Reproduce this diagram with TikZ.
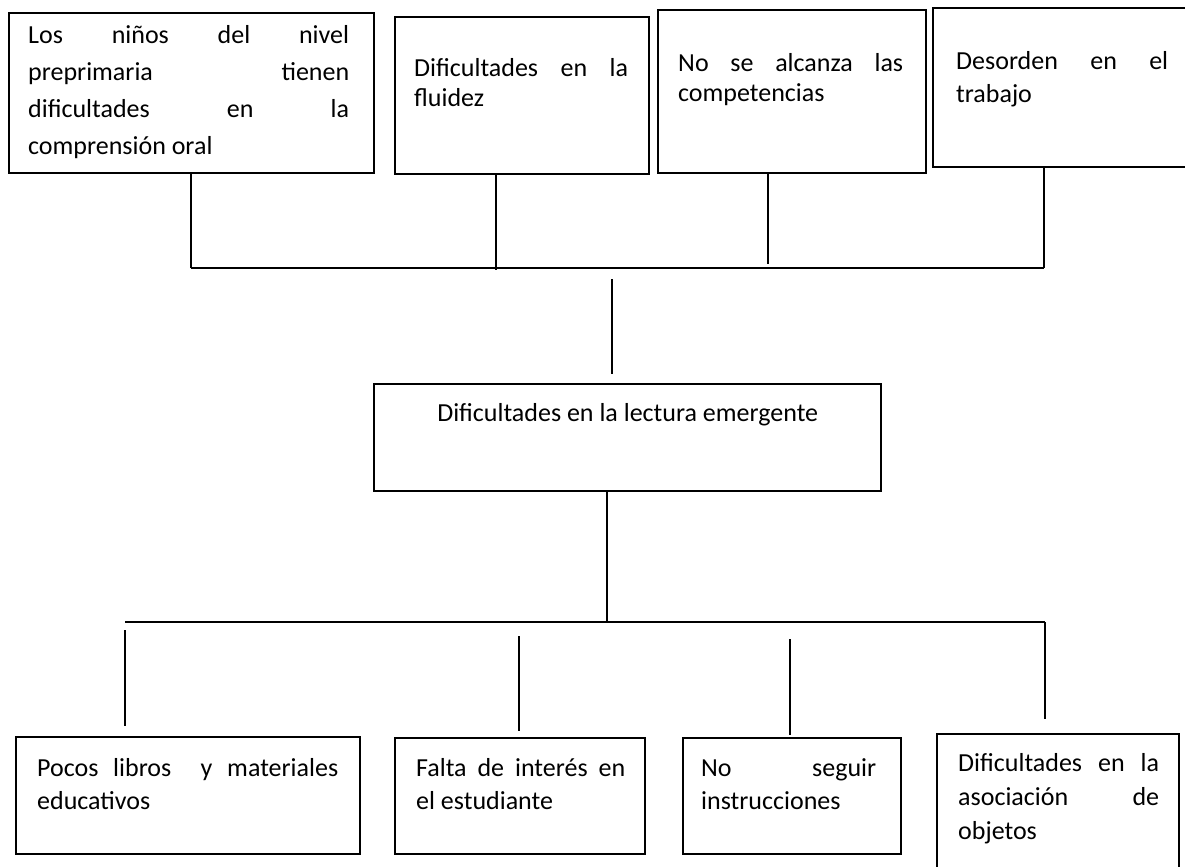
\documentclass[tikz,border=0pt]{standalone}
\usepackage{fontspec}
\setmainfont{Carlito}
\usetikzlibrary{calc}
% width, height, left pad, right pad, first baseline, text
\newcommand{\boxtext}[6]{\parbox[t][#2][t]{#1}{\hyphenpenalty=10000\relax\tolerance=10000\relax\leftskip=#3\relax\rightskip=#4\relax\rule{0pt}{#5}#6}}

\begin{document}
\begin{tikzpicture}[x=0.5pt, y=-0.5pt,
      treebox/.style={draw, line width=1.2pt, anchor=north west, inner sep=0pt, font=\fontsize{13}{16.5}\selectfont},
      link/.style={line width=0.6pt}
    ]
      \useasboundingbox (0,0) rectangle (1185,867);
      % efectos
      \node[treebox, font=\fontsize{13}{18.5}\selectfont] (efecto1) at (8,12) {\boxtext{182.5pt}{80pt}{9.5pt}{12.5pt}{15pt}{Los niños del nivel\linebreak preprimaria tienen\linebreak dificultades en la\linebreak comprensión oral}};
      \node[treebox, font=\fontsize{13}{15}\selectfont] (efecto2) at (394,16) {\boxtext{127pt}{78.5pt}{9.5pt}{10.5pt}{29.5pt}{Dificultades en la\linebreak fluidez}};
      \node[treebox, font=\fontsize{13}{15}\selectfont] (efecto3) at (657,9) {\boxtext{134pt}{81.5pt}{10pt}{11.5pt}{30.5pt}{No se alcanza las\linebreak competencias}};
      \node[treebox] (efecto4) at (932,7) {\boxtext{140pt}{79.5pt}{11.5pt}{22.5pt}{30.5pt}{Desorden en el\linebreak trabajo}};
      % problema central
      \node[treebox] (problema) at (373,383) {\parbox[t][53.5pt][t]{253.5pt}{\centering\rule{0pt}{18.5pt}Dificultades en la lectura emergente}};
      % causas
      \node[treebox] (causa1) at (15,736) {\boxtext{172pt}{58.5pt}{10.5pt}{11pt}{19.5pt}{Pocos libros\ \ y materiales\linebreak educativos}};
      \node[treebox] (causa2) at (394,737) {\boxtext{125pt}{58pt}{10.5pt}{10pt}{19pt}{Falta de interés en\linebreak el estudiante}};
      \node[treebox] (causa3) at (682,737) {\boxtext{109pt}{58pt}{9pt}{12.5pt}{19pt}{No seguir\linebreak instrucciones}};
      \node[treebox, font=\fontsize{13}{17}\selectfont] (causa4) at (936,733) {\boxtext{121pt}{70pt}{10.5pt}{10pt}{18.5pt}{Dificultades en la\linebreak asociación de\linebreak objetos}};
      % puntos de las barras
      \coordinate (e1) at (191,268);
      \coordinate (e2) at (496,270);
      \coordinate (e3) at (768,264);
      \coordinate (e4) at (1044,268);
      \coordinate (p1) at (612,279);
      \coordinate (p2) at (607,622);
      \coordinate (c0) at (125,622);
      \coordinate (c1) at (125,630);
      \coordinate (c2) at (519,636);
      \coordinate (c3) at (790,639);
      \coordinate (c4) at (1045,622);
      % conectores de arriba
      \draw[link] (e1 |- efecto1.south) -- (e1);
      \draw[link] (e2 |- efecto2.south) -- (e2);
      \draw[link] (e3 |- efecto3.south) -- (e3);
      \draw[link] (e4 |- efecto4.south) -- (e4);
      \draw[link] (e1) -- (e4);
      \draw[link, shorten >=4.5pt] (p1) -- (p1 |- problema.north);
      % conectores de abajo
      \draw[link] (p2 |- problema.south) -- (p2);
      \draw[link] (c0) -- (c4);
      \draw[link, shorten >=5pt] (c1) -- (c1 |- causa1.north);
      \draw[link, shorten >=3pt] (c2) -- (c2 |- causa2.north);
      \draw[link, shorten >=1pt] (c3) -- (c3 |- causa3.north);
      \draw[link, shorten >=7pt] (c4) -- (c4 |- causa4.north);
    \end{tikzpicture}
\end{document}
